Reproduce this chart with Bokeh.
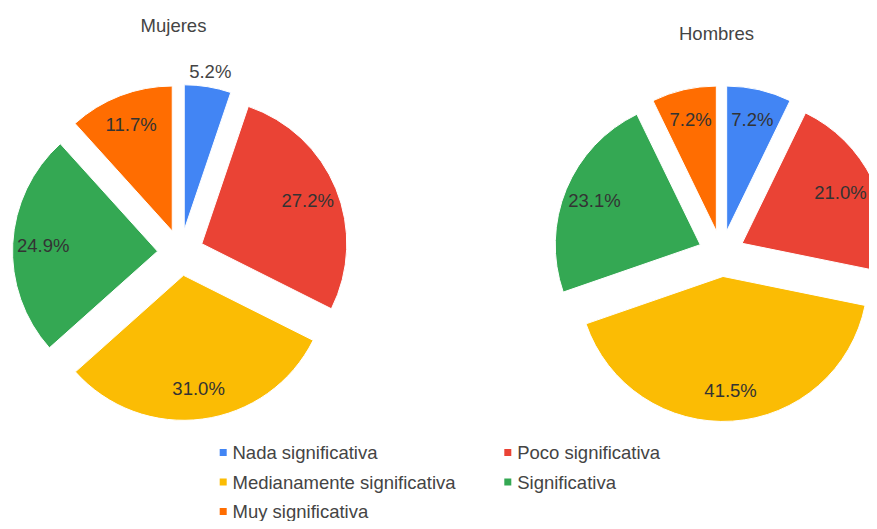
import math
from bokeh.plotting import figure
from bokeh.models import Range1d, ColumnDataSource
from bokeh.core.properties import value
from bokeh.embed import file_html
from bokeh.resources import INLINE

categories = ["Nada significativa", "Poco significativa", "Medianamente significativa",
              "Significativa", "Muy significativa"]
colors = ["#4285F4", "#EA4335", "#FBBC04", "#34A853", "#FF6D01"]
mujeres = [5.2, 27.2, 31.0, 24.9, 11.7]
hombres = [7.2, 21.0, 41.5, 23.1, 7.2]
titles = ["Mujeres", "Hombres"]

W, H = 869, 521
FONT = "Liberation Sans"
FS = "18.5px"

p = figure(width=W, height=H, x_range=Range1d(0, W), y_range=Range1d(0, H),
           output_backend="svg", toolbar_location=None, min_border=0)
p.axis.visible = False
p.grid.visible = False
p.outline_line_color = None
p.background_fill_color = "white"

# screen px (y down from top of figure) -> data
def Y(py):
    return H - py


def pie(values, cx, cy, r, explode, title, tx, ty):
    total = sum(values)
    xs, ys, sa, ea, cols = [], [], [], [], []
    lx, ly, lt, lc = [], [], [], []
    acc = 0.0
    for v, c in zip(values, colors):
        f0 = acc / total
        f1 = (acc + v) / total
        acc += v
        mid = math.pi * (f0 + f1)  # clockwise from top
        ox = cx + explode * math.sin(mid)
        oy = cy + explode * math.cos(mid)
        xs.append(ox)
        ys.append(oy)
        sa.append(math.pi / 2 - 2 * math.pi * f0)
        ea.append(math.pi / 2 - 2 * math.pi * f1)
        cols.append(c)
        if v / total < 0.06:
            rl = r + 15
            lc.append("#444444")
        else:
            rl = 0.79 * r
            lc.append("#333333")
        x = ox + rl * math.sin(mid)
        x = min(x, W - 29)  # keep label inside the chart area
        lx.append(x)
        ly.append(oy + rl * math.cos(mid))
        lt.append(f"{v:.1f}%")
    src = ColumnDataSource(dict(x=xs, y=ys, sa=sa, ea=ea, c=cols))
    p.wedge(x="x", y="y", radius=r, start_angle="sa", end_angle="ea",
            direction="clock", fill_color="c", line_color="white", line_width=1,
            source=src)
    lsrc = ColumnDataSource(dict(x=lx, y=ly, t=lt, c=lc))
    p.text(x="x", y="y", text="t", text_color="c", text_font=value(FONT),
           text_font_size=FS, text_align="center", text_baseline="middle",
           source=lsrc)
    p.text(x=[tx], y=[ty], text=[title], text_color="#444444", text_font=value(FONT),
           text_font_size=FS, text_align="center", text_baseline="middle")


pie(mujeres, 180, Y(252), 145, 23, titles[0], 173, Y(25))
pie(hombres, 721, Y(253), 145, 23, titles[1], 716, Y(33))

# legend
col_sq = [222.7, 507.3]
col_tx = [232, 516.7]
rows = [Y(452), Y(481.5), Y(511)]
sx, sy, tx, ty = [], [], [], []
for i, name in enumerate(categories):
    rr, cc = divmod(i, 2)
    sx.append(col_sq[cc]); sy.append(rows[rr])
    tx.append(col_tx[cc]); ty.append(rows[rr])
p.rect(x=sx, y=sy, width=7, height=7, fill_color=colors, line_color=None)
p.text(x=tx, y=ty, text=categories, text_color="#444444", text_font=value(FONT),
       text_font_size=FS, text_align="left", text_baseline="middle")

open("out.html", "w").write(file_html(p, INLINE))
